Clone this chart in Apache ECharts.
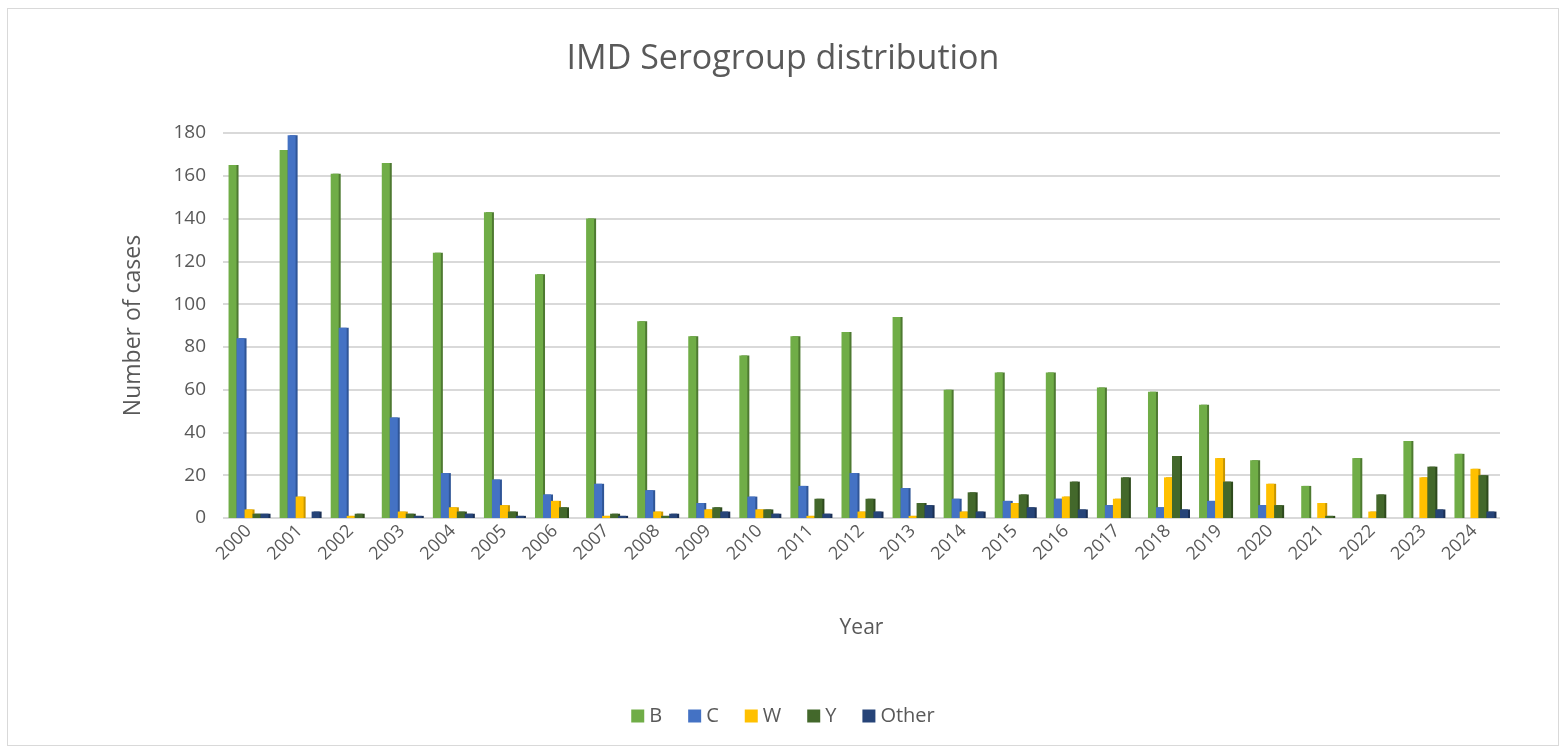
<!DOCTYPE html>
<html>
<head>
<meta charset="utf-8">
<title>IMD Serogroup distribution</title>
<script src="https://cdn.jsdelivr.net/npm/echarts@6/dist/echarts.min.js"></script>
<style>
  html, body { margin: 0; padding: 0; background: #fff; }
  #chart {
    position: absolute;
    left: 7px; top: 8px;
    width: 1550px; height: 736px;
    border: 1px solid #d9d9d9;
  }
</style>
</head>
<body>
<div id="chart"></div>
<script>
const years = ["2000","2001","2002","2003","2004","2005","2006","2007","2008","2009",
  "2010","2011","2012","2013","2014","2015","2016","2017","2018","2019",
  "2020","2021","2022","2023","2024"];

const serB     = [165,172,161,166,124,143,114,140,92,85,76,85,87,94,60,68,68,61,59,53,27,15,28,36,30];
const serC     = [84,179,89,47,21,18,11,16,13,7,10,15,21,14,9,8,9,6,5,8,6,0,0,0,0];
const serW     = [4,10,1,3,5,6,8,1,3,4,4,1,3,1,3,7,10,9,19,28,16,7,3,19,23];
const serY     = [2,0,2,2,3,3,5,2,1,5,4,9,9,7,12,11,17,19,29,17,6,1,11,24,20];
const serOther = [2,3,0,1,2,1,0,1,2,3,2,2,3,6,3,5,4,0,4,0,0,0,0,4,3];

const yTicks = { min: 0, max: 180, interval: 20 };

const textColor = "#595959";
const font = "'Open Sans', 'Liberation Sans', sans-serif";

function bar(name, data, color, side) {
  return {
    name: name,
    type: "bar",
    data: data,
    barWidth: 8,
    barGap: "0%",
    itemStyle: {
      color: color,
      // fake the 3D side face of the Excel bars
      shadowColor: side,
      shadowOffsetX: 2,
      shadowOffsetY: 0,
      shadowBlur: 0,
    },
  };
}

const myChart = echarts.init(document.getElementById("chart"));

myChart.setOption({
  animation: false,
  textStyle: { fontFamily: font },
  title: {
    text: "IMD Serogroup distribution",
    left: "center",
    top: 28,
    textStyle: {
      color: textColor,
      fontSize: 34,
      fontWeight: "normal",
      fontFamily: font,
    },
  },
  legend: {
    bottom: 14,
    left: "center",
    itemWidth: 13,
    itemHeight: 13,
    itemGap: 26,
    icon: "rect",
    textStyle: { color: textColor, fontSize: 20, fontFamily: font },
    data: ["B", "C", "W", "Y", "Other"],
  },
  grid: {
    left: 215,
    right: 58,
    top: 124,
    bottom: 227,
  },
  xAxis: {
    type: "category",
    data: years,
    name: "Year",
    nameLocation: "middle",
    nameGap: 100,
    nameTextStyle: { color: textColor, fontSize: 21, fontFamily: font },
    axisLine: { show: false },
    axisTick: { show: false },
    axisLabel: {
      color: textColor,
      fontSize: 18,
      rotate: 45,
      margin: 10,
      interval: 0,
    },
  },
  yAxis: {
    type: "value",
    min: yTicks.min,
    max: yTicks.max,
    interval: yTicks.interval,
    name: "Number of cases",
    nameLocation: "middle",
    nameGap: 78,
    nameTextStyle: { color: textColor, fontSize: 23, fontFamily: font },
    axisLine: { show: false },
    axisTick: { show: false },
    axisLabel: { color: textColor, fontSize: 19, margin: 17 },
    splitLine: { lineStyle: { color: "#d9d9d9", width: 2 } },
  },
  series: [
    bar("B", serB, "#70ad47", "#4e7a31"),
    bar("C", serC, "#4472c4", "#2f5597"),
    bar("W", serW, "#ffc000", "#c79500"),
    bar("Y", serY, "#43682b", "#2e4a1d"),
    bar("Other", serOther, "#264478", "#1a2f54"),
  ],
});
</script>
</body>
</html>
